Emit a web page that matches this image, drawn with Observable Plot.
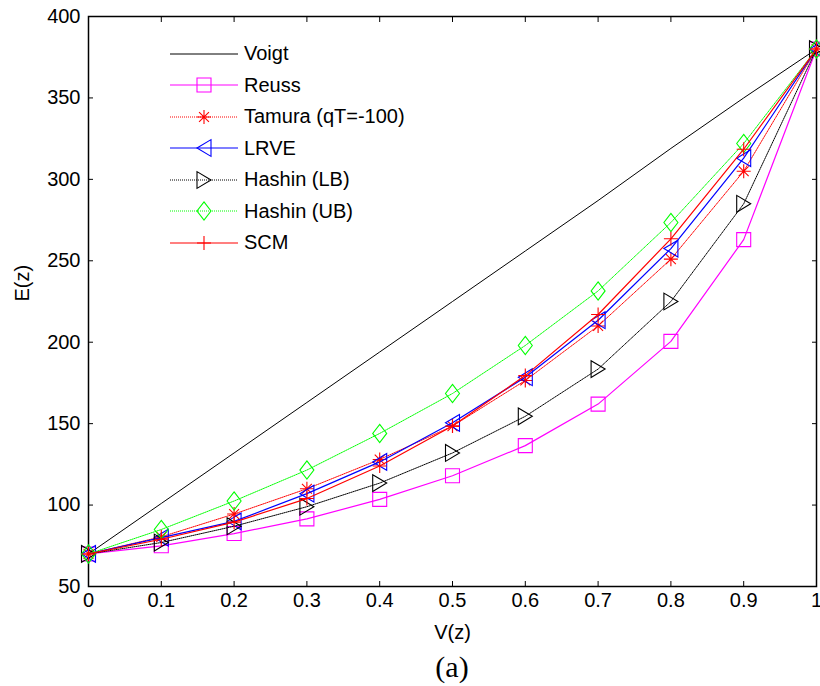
<!DOCTYPE html>
<html>
<head>
<meta charset="utf-8">
<script src="https://cdn.jsdelivr.net/npm/d3@7"></script>
<script src="https://cdn.jsdelivr.net/npm/@observablehq/plot@0.6"></script>
<style>
  body { margin: 0; background: #fff; }
  #wrap { position: relative; width: 820px; height: 686px; font-family: "Liberation Sans", Arial, sans-serif; }
  #legend { position: absolute; left: 170px; top: 38px; }
  .row { display: flex; align-items: center; height: 31.5px; font-size: 20px; color: #000; white-space: nowrap; }
  .row svg { margin-right: 6px; display: block; }
  #cap { font-family: "Liberation Serif", "Times New Roman", serif; font-size: 30px; text-align: center;
         padding-left: 84px; width: 736px; padding-top: 4px; line-height: 36px; color: #000; }
</style>
</head>
<body>
<div id="wrap">
  <div id="chart"></div>
  <div id="legend"></div>
  <div id="cap">(a)</div>
</div>
<script>
// ---- data ----
const vf = [0, 0.1, 0.2, 0.3, 0.4, 0.5, 0.6, 0.7, 0.8, 0.9, 1];
const seriesNames = ["Voigt", "Reuss", "Tamura (qT=-100)", "LRVE", "Hashin (LB)", "Hashin (UB)", "SCM"];
const voigt    = [70, 101, 132, 163, 194, 225, 256, 287, 319, 350, 380];
const reuss    = [70, 75, 82.5, 91.5, 103.5, 118, 136.5, 162, 200.5, 263, 380];
const tamura   = [70, 80.5, 94.5, 110, 128, 148.5, 176.5, 210, 251, 305, 380];
const lrve     = [70, 80, 90, 107, 126.5, 150.5, 178.5, 213.5, 257.5, 313, 380];
const hashinLB = [70, 77, 87, 99, 113.5, 132, 154.5, 183.5, 225, 285, 380];
const hashinUB = [70, 85, 102.5, 121.5, 144, 168.5, 198, 231.5, 273.5, 322, 380];
const scm      = [70, 79, 89.5, 104, 124, 148.5, 179.5, 217, 263.5, 318.5, 380];
const seriesValues = [voigt, reuss, tamura, lrve, hashinLB, hashinUB, scm];
const xTicks = [0, 0.1, 0.2, 0.3, 0.4, 0.5, 0.6, 0.7, 0.8, 0.9, 1];
const yTicks = [50, 100, 150, 200, 250, 300, 350, 400];
const xLabel = "V(z)";
const yLabel = "E(z)";

// ---- custom marker symbols (MATLAB-like) ----
const mk = f => ({ draw(ctx, size) { const r = Math.sqrt(size / Math.PI); f(ctx, r); } });
const symSquare = mk((c, r) => { c.moveTo(-r, -r); c.lineTo(r, -r); c.lineTo(r, r); c.lineTo(-r, r); c.closePath(); });
const symTriLeft = mk((c, r) => { c.moveTo(-r, 0); c.lineTo(r, -1.2 * r); c.lineTo(r, 1.2 * r); c.closePath(); });
const symTriRight = mk((c, r) => { c.moveTo(r, 0); c.lineTo(-r, -1.2 * r); c.lineTo(-r, 1.2 * r); c.closePath(); });
const symDiamond = mk((c, r) => { c.moveTo(0, -1.3 * r); c.lineTo(r, 0); c.lineTo(0, 1.3 * r); c.lineTo(-r, 0); c.closePath(); });
const symAsterisk = mk((c, r) => {
  c.moveTo(-r, 0); c.lineTo(r, 0); c.moveTo(0, -r); c.lineTo(0, r);
  const d = r * 0.7071; c.moveTo(-d, -d); c.lineTo(d, d); c.moveTo(-d, d); c.lineTo(d, -d);
});
const symPlus = mk((c, r) => { c.moveTo(-r, 0); c.lineTo(r, 0); c.moveTo(0, -r); c.lineTo(0, r); });

const styles = [
  { stroke: "#000000", width: 1,   dash: null,  symbol: null },
  { stroke: "#ff00ff", width: 1.2, dash: null,  symbol: symSquare },
  { stroke: "#ff0000", width: 1,   dash: "1,1", symbol: symAsterisk },
  { stroke: "#0000ff", width: 1.2, dash: null,  symbol: symTriLeft },
  { stroke: "#000000", width: 1,   dash: "1,1", symbol: symTriRight },
  { stroke: "#00ff00", width: 1,   dash: "1,1", symbol: symDiamond },
  { stroke: "#ff0000", width: 1.2, dash: null,  symbol: symPlus }
];
const R = 7;

const rows = seriesNames.map((name, i) => seriesValues[i].map((e, j) => ({ series: name, v: vf[j], e })));

const marks = [Plot.frame({ stroke: "black", strokeWidth: 1.5 })];
rows.forEach((data, i) => {
  const s = styles[i];
  marks.push(Plot.line(data, { x: "v", y: "e", stroke: s.stroke, strokeWidth: s.width, strokeDasharray: s.dash }));
  if (s.symbol) marks.push(Plot.dot(data, { x: "v", y: "e", symbol: s.symbol, r: R, stroke: s.stroke, fill: "none", strokeWidth: 1.1 }));
});
marks.push(
  Plot.axisX({ ticks: xTicks, anchor: "bottom", tickSize: -5, tickPadding: 11, tickFormat: d => String(d), label: null }),
  Plot.axisX({ ticks: xTicks, anchor: "top", tickSize: -5, tickFormat: () => "", label: null }),
  Plot.axisY({ ticks: yTicks, anchor: "left", tickSize: -5, tickPadding: 13, tickFormat: d => String(d), label: null }),
  Plot.axisY({ ticks: yTicks, anchor: "right", tickSize: -5, tickFormat: () => "", label: null }),
  Plot.text([xLabel], { text: d => d, frameAnchor: "bottom", dy: 46, lineAnchor: "middle", fontSize: 20 }),
  Plot.text([yLabel], { text: d => d, frameAnchor: "left", dx: -66, rotate: -90, lineAnchor: "middle", fontSize: 20 })
);

const chart = Plot.plot({
  width: 820, height: 645,
  marginLeft: 88, marginRight: 4, marginTop: 16, marginBottom: 59,
  x: { domain: [0, 1] },
  y: { domain: [50, 400] },
  style: { fontFamily: "'Liberation Sans', Arial, sans-serif", fontSize: "20px", background: "white", color: "black", overflow: "visible" },
  marks
});
document.getElementById("chart").appendChild(chart);

// ---- legend ----
const legend = d3.select("#legend");
seriesNames.forEach((name, i) => {
  const s = styles[i];
  const row = legend.append("div").attr("class", "row");
  const svg = row.append("svg").attr("width", 68).attr("height", 30);
  svg.append("line").attr("x1", 0).attr("x2", 68).attr("y1", 15).attr("y2", 15)
    .attr("stroke", s.stroke).attr("stroke-width", s.width).attr("stroke-dasharray", s.dash);
  if (s.symbol) {
    const p = d3.path();
    s.symbol.draw(p, Math.PI * R * R);
    svg.append("path").attr("d", p.toString()).attr("transform", "translate(34,15)")
      .attr("fill", "none").attr("stroke", s.stroke).attr("stroke-width", 1.1);
  }
  row.append("span").text(name);
});
</script>
</body>
</html>
